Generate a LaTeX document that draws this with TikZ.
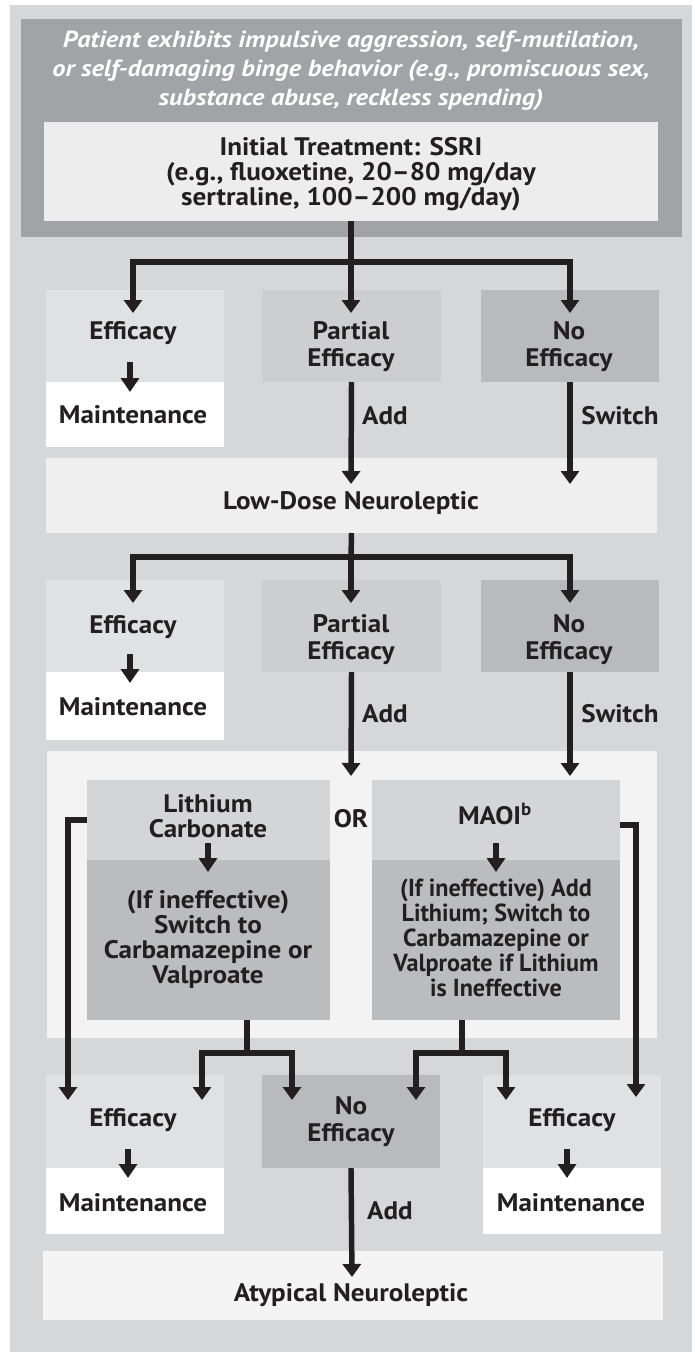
\documentclass[tikz,border=0pt]{standalone}
\usepackage{fontspec}
\setmainfont{PT Sans}
\newfontfamily\bodyf[FakeStretch=1.07,Ligatures=TeX]{PT Sans}
\newfontfamily\condf[FakeStretch=0.98,Ligatures=TeX]{PT Sans}
\newfontfamily\topf[FakeStretch=1.13,Ligatures=TeX]{PT Sans}
\usetikzlibrary{arrows.meta}
\definecolor{outerbg}{HTML}{D6D7D9}
\definecolor{topdark}{HTML}{A1A3A6}
\definecolor{initc}{HTML}{EDEDED}
\definecolor{effc}{HTML}{E0E1E3}
\definecolor{partc}{HTML}{CDCED0}
\definecolor{noc}{HTML}{B9BABD}
\definecolor{lowc}{HTML}{EFEFEF}
\definecolor{panelc}{HTML}{F3F3F4}
\definecolor{lithtop}{HTML}{D4D5D7}
\definecolor{lithbot}{HTML}{BBBCBE}
\definecolor{atypc}{HTML}{F4F4F4}
\definecolor{ink}{HTML}{231F20}
\newcommand\pbox[6]{\node[bx,fill=#2,minimum width={(#5-#3)*0.75pt},minimum height={(#6-#4)*0.75pt}] (#1) at ({(#3+#5)/2},{(#4+#6)/2}) {};}
\begin{document}
\begin{tikzpicture}[x=0.75pt,y=-0.75pt,
  bx/.style={rectangle,inner sep=0pt,outer sep=0pt,draw=none},
  txt/.style={text=ink,font=\bodyf\bfseries\fontsize{19}{20.25}\selectfont,align=center,inner sep=0pt},
  txtb/.style={text=ink,font=\bodyf\bfseries\fontsize{19}{18.75}\selectfont,align=center,inner sep=0pt},
  txtc/.style={text=ink,font=\condf\bfseries\fontsize{18.5}{18.75}\selectfont,align=center,inner sep=0pt},
  toptxt/.style={text=white,font=\topf\bfseries\itshape\fontsize{17.5}{21.75}\selectfont,align=center,inner sep=0pt},
  ln/.style={draw=ink,line width=4.1pt},
  arr/.style={draw=ink,line width=4.1pt,-{Triangle[length=9.75pt,width=13.5pt]}},
  sarr/.style={draw=ink,line width=4.1pt,-{Triangle[length=10.5pt,width=13.5pt]}}]
\useasboundingbox (0,0) rectangle (694,1352);
% backgrounds
\pbox{outer}{outerbg}{10}{5}{692}{1352}
\pbox{top}{topdark}{21}{19}{682}{237}
\pbox{init}{initc}{44}{122}{658}{221}
% row 1
\pbox{effA}{effc}{46}{290}{224}{382}
\pbox{mntA}{white}{46}{382}{224}{447}
\pbox{partA}{partc}{262}{290}{441}{382}
\pbox{noA}{noc}{481}{290}{659}{382}
\pbox{low}{lowc}{46}{458}{657}{533}
% row 2
\pbox{effB}{effc}{46}{580}{224}{672}
\pbox{mntB}{white}{46}{672}{224}{740}
\pbox{partB}{partc}{262}{580}{441}{672}
\pbox{noB}{noc}{481}{580}{659}{672}
\pbox{panel}{panelc}{47}{751}{657}{1038}
\pbox{lithT}{lithtop}{87}{780}{330}{860}
\pbox{lithD}{lithbot}{87}{860}{330}{1020}
\pbox{maoiT}{lithtop}{372}{780}{620}{860}
\pbox{maoiD}{lithbot}{372}{860}{620}{1020}
% row 3
\pbox{effC}{effc}{46}{1075}{224}{1168}
\pbox{mntC}{white}{46}{1168}{224}{1234}
\pbox{noC}{noc}{262}{1075}{440}{1168}
\pbox{effD}{effc}{483}{1075}{661}{1168}
\pbox{mntD}{white}{483}{1168}{661}{1234}
\pbox{atyp}{atypc}{43}{1251}{663}{1320}
% texts
\node[toptxt] (toptext) at (351,71) {Patient exhibits impulsive aggression, self-mutilation,\\or self-damaging binge behavior (e.g., promiscuous sex,\\substance abuse, reckless spending)};
\node[txtb] (inittext) at (351,174) {Initial Treatment: SSRI\\(e.g., fluoxetine, 20–80 mg/day\\sertraline, 100–200 mg/day)};
\node[txt] (effAt) at (133,333) {Efficacy};
\node[txt] (mntAt) at (133,415) {Maintenance};
\node[txt] (partAt) at (351,347) {Partial\\Efficacy};
\node[txt] (noAt) at (569,347) {No\\Efficacy};
\node[txt] (addA) at (385,416) {Add};
\node[txt] (swA) at (620,416) {Switch};
\node[txt] (lowt) at (351,503) {Low-Dose Neuroleptic};
\node[txt] (effBt) at (133,627) {Efficacy};
\node[txt] (mntBt) at (133,707) {Maintenance};
\node[txt] (partBt) at (351,640) {Partial\\Efficacy};
\node[txt] (noBt) at (569,640) {No\\Efficacy};
\node[txt] (addB) at (385,714) {Add};
\node[txt] (swB) at (620,714) {Switch};
\node[txtb] (lithTt) at (208,816) {Lithium\\Carbonate};
\node[txt] (ort) at (351,819) {OR};
\node[txt] (maoiTt) at (495,814) {MAOI\textsuperscript{b}};
\node[txtb] (lithDt) at (208,940) {(If ineffective)\\Switch to\\Carbamazepine or\\Valproate};
\node[txtc] (maoiDt) at (496,938) {(If ineffective) Add\\Lithium; Switch to\\Carbamazepine or\\Valproate if Lithium\\is Ineffective};
\node[txt] (effCt) at (133,1120) {Efficacy};
\node[txt] (mntCt) at (133,1203) {Maintenance};
\node[txt] (noCt) at (351,1122) {No\\Efficacy};
\node[txt] (effDt) at (572,1120) {Efficacy};
\node[txt] (mntDt) at (571,1203) {Maintenance};
\node[txt] (addC) at (390,1211) {Add};
\node[txt] (atypt) at (351,1295) {Atypical Neuroleptic};
% connector coordinates
\coordinate (j1) at (351,262);
\coordinate (t1a) at (133,313);
\coordinate (t1b) at (351,313);
\coordinate (t1c) at (570,313);
\coordinate (s1a) at (130,362);
\coordinate (s1b) at (130,392);
\coordinate (t2a) at (351,484);
\coordinate (t2b) at (570,484);
\coordinate (j2) at (351,557);
\coordinate (t3a) at (133,603);
\coordinate (t3b) at (351,603);
\coordinate (t3c) at (570,603);
\coordinate (s2a) at (130,654);
\coordinate (s2b) at (130,683);
\coordinate (t4a) at (351,776);
\coordinate (t4b) at (570,776);
\coordinate (s3a) at (208,843);
\coordinate (s3b) at (208,872);
\coordinate (s4a) at (496,843);
\coordinate (s4b) at (496,872);
\coordinate (tL) at (68,1100);
\coordinate (tR) at (636,1097);
\coordinate (jL) at (247,1053);
\coordinate (jR) at (462,1053);
\coordinate (tLa) at (202,1100);
\coordinate (tLb) at (292,1100);
\coordinate (tRa) at (416,1100);
\coordinate (tRb) at (506,1100);
\coordinate (s5a) at (128,1149);
\coordinate (s5b) at (128,1178);
\coordinate (s6a) at (567,1149);
\coordinate (s6b) at (567,1178);
\coordinate (t5) at (352,1277);
% connectors
\draw[ln] (init.south) -- (j1);
\draw[arr] (j1) -| (t1a);
\draw[arr] (j1) -- (t1b);
\draw[arr] (j1) -| (t1c);
\draw[sarr] (s1a) -- (s1b);
\draw[arr] (partA.south) -- (t2a);
\draw[arr] (noA.south) -- (t2b);
\draw[ln] (low.south) -- (j2);
\draw[arr] (j2) -| (t3a);
\draw[arr] (j2) -- (t3b);
\draw[arr] (j2) -| (t3c);
\draw[sarr] (s2a) -- (s2b);
\draw[arr] (partB.south) -- (t4a);
\draw[arr] (noB.south) -- (t4b);
\draw[sarr] (s3a) -- (s3b);
\draw[sarr] (s4a) -- (s4b);
\draw[arr] (lithT.west) -| (tL);
\draw[arr] ([yshift=-3.75pt]maoiT.east) -| (tR);
\draw[ln] (lithD.south -| jL) -- (jL);
\draw[arr] (jL) -| (tLa);
\draw[arr] (jL) -| (tLb);
\draw[ln] (maoiD.south -| jR) -- (jR);
\draw[arr] (jR) -| (tRa);
\draw[arr] (jR) -| (tRb);
\draw[sarr] (s5a) -- (s5b);
\draw[sarr] (s6a) -- (s6b);
\draw[arr] (noC.south) -- (t5);
\end{tikzpicture}
\end{document}
